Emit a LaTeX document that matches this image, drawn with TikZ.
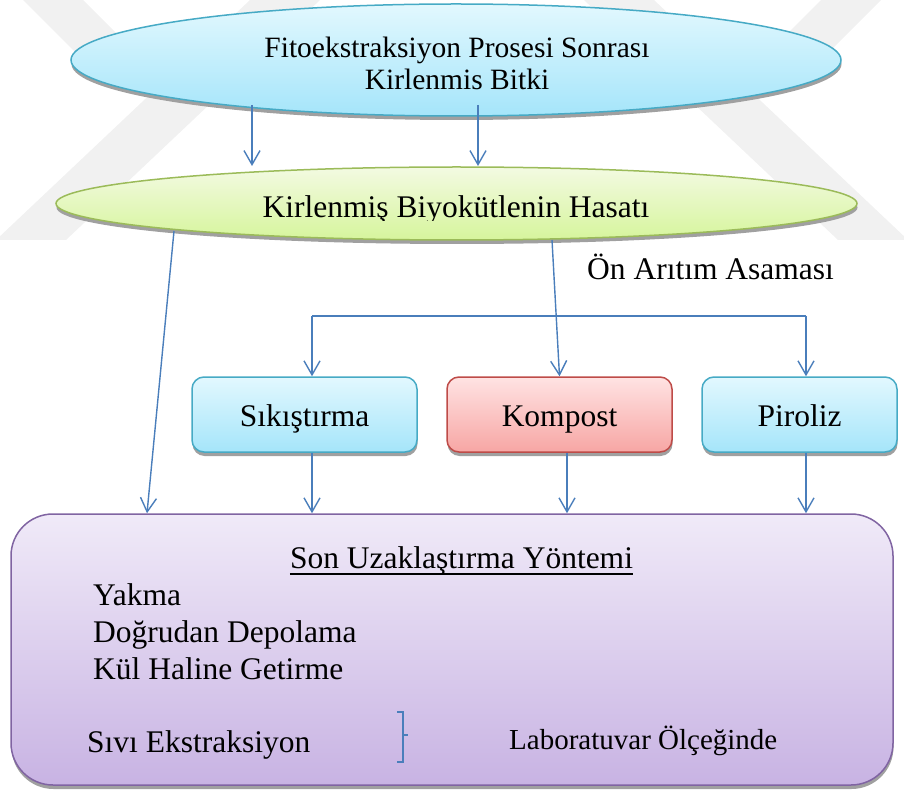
\documentclass[tikz,border=0pt]{standalone}
\usepackage{fontspec}
\setmainfont{Liberation Serif}
\usetikzlibrary{shapes.geometric,shadows,arrows.meta,calc}
\definecolor{arrblue}{HTML}{4A7EBB}
\definecolor{aquaT}{HTML}{E2F8FE}
\definecolor{aquaB}{HTML}{A5E5FA}
\definecolor{aquaD}{HTML}{46AAC5}
\definecolor{pinkT}{HTML}{FFE3E3}
\definecolor{pinkB}{HTML}{F7A6A4}
\definecolor{pinkD}{HTML}{BE4B48}
\definecolor{grnT}{HTML}{F3FAE2}
\definecolor{grnB}{HTML}{D6F59C}
\definecolor{grnD}{HTML}{9BBB59}
\definecolor{purT}{HTML}{F0EAF8}
\definecolor{purB}{HTML}{C8B3E3}
\definecolor{purD}{HTML}{8064A2}
\definecolor{shadcol}{HTML}{A0A0A0}
\definecolor{wmark}{HTML}{F1F1F1}
\begin{document}
\begin{tikzpicture}[x=1pt,y=1pt,
  shadowed/.style={drop shadow={shadow xshift=0.5pt,shadow yshift=-4pt,fill=shadcol,opacity=1}},
  txt/.style={inner sep=0pt,font=\fontsize{31.5}{37}\selectfont},
  txtsmall/.style={inner sep=0pt,font=\fontsize{29.5}{35}\selectfont},
  line/.style={draw=arrblue,line width=1.4pt},
  arr/.style={draw=arrblue,line width=1.4pt,-{Straight Barb[length=14pt,width=16pt]}},
  box/.style={draw=aquaD,line width=1.5pt,rounded corners=12pt,top color=aquaT,bottom color=aquaB,
    shadowed,font=\fontsize{31.5}{37}\selectfont,text height=23pt,text depth=0pt,inner sep=0pt,
    minimum height=75pt},
  pinkbox/.style={box,draw=pinkD,top color=pinkT,bottom color=pinkB},
  oval/.style={ellipse,inner sep=0pt,line width=1.5pt,shadowed}
]
\useasboundingbox (0,0) rectangle (904,-791);
% faint watermark bands
\begin{scope}
\clip (0,0) rectangle (904,-240);
\fill[wmark] (250,0) -- (320,0) -- (66,-240) -- (-4,-240) -- cycle;
\fill[wmark] (654,0) -- (584,0) -- (838,-240) -- (908,-240) -- cycle;
\fill[wmark] (23,0) -- (83,0) -- (150,-67) -- (90,-67) -- cycle;
\fill[wmark] (881,0) -- (821,0) -- (754,-67) -- (814,-67) -- cycle;
\end{scope}

% shapes
\node[oval,draw=aquaD,top color=aquaT,bottom color=aquaB,minimum width=770pt,minimum height=112pt] (top) at (456,-60) {};
\node[oval,draw=grnD,top color=grnT,bottom color=grnB,minimum width=801pt,minimum height=73pt] (hasat) at (456.5,-203.5) {};
\node[box,minimum width=225pt] (sik) at (304.5,-414.5) {Sıkıştırma};
\node[pinkbox,minimum width=225pt] (kom) at (559.5,-414.5) {Kompost};
\node[box,minimum width=195pt] (pir) at (799.5,-414.5) {Piroliz};
\node[draw=purD,line width=1.5pt,rounded corners=42pt,top color=purT,bottom color=purB,shadowed,
  minimum width=882pt,minimum height=271pt,inner sep=0pt] (son) at (452,-649.5) {};

% texts
\node[txtsmall,anchor=base] (t1a) at (457,-58) {Fitoekstraksiyon Prosesi Sonrası};
\node[txtsmall,anchor=base] (t1b) at (457,-90) {Kirlenmis Bitki};
\begin{scope}
  \clip (0,-220.5) rectangle (904,-170);
  \node[txt,anchor=base] (t2) at (456,-218) {Kirlenmiş Biyokütlenin Hasatı};
\end{scope}
\node[txt,anchor=base west] (onar) at (587,-280) {Ön Arıtım Asaması};
\node[txt,anchor=base] (sonuz) at (461.5,-568) {Son Uzaklaştırma Yöntemi};
\draw[line width=1.5pt] ($(sonuz.base west)+(0,-6)$) -- ($(sonuz.base east)+(0,-6)$);
\node[txt,anchor=base west] (yak) at (93,-605) {Yakma};
\node[txt,anchor=base west] (dog) at (93,-642) {Doğrudan Depolama};
\node[txt,anchor=base west] (kul) at (93,-679) {Kül Haline Getirme};
\node[txt,anchor=base west] (siv) at (87,-752) {Sıvı Ekstraksiyon};
\node[inner sep=0pt,font=\fontsize{29}{34}\selectfont,anchor=base west] (lab) at (509,-749) {Laboratuvar Ölçeğinde};
\draw[line] (397,-712) -- (403,-712) -- (403,-762) -- (397,-762);
\draw[line] (403,-735) -- (408,-735);

% connector guides
\coordinate (a1s) at (252,-105);
\coordinate (a1e) at (252,-166);
\coordinate (a2s) at (478,-105);
\coordinate (a2e) at (478,-166);
\coordinate (b1) at (174,-231);
\coordinate (b2) at (552,-240);
\coordinate (bus) at (0,-316);
\coordinate (xl) at (147,0);
\coordinate (xs) at (312,0);
\coordinate (xk) at (567,0);
\coordinate (xp) at (806,0);

% connectors
\draw[arr] (a1s) -- (a1e);
\draw[arr] (a2s) -- (a2e);
\draw[arr] (b1) -- (xl |- son.north);
\draw[arr] (b2) -- (kom.north);
\draw[line] (xs |- bus) -- (xp |- bus);
\draw[arr] (xs |- bus) -- (xs |- sik.north);
\draw[arr] (xp |- bus) -- (xp |- pir.north);
\draw[arr] (xs |- sik.south) -- (xs |- son.north);
\draw[arr] (xk |- kom.south) -- (xk |- son.north);
\draw[arr] (xp |- pir.south) -- (xp |- son.north);
\end{tikzpicture}
\end{document}
